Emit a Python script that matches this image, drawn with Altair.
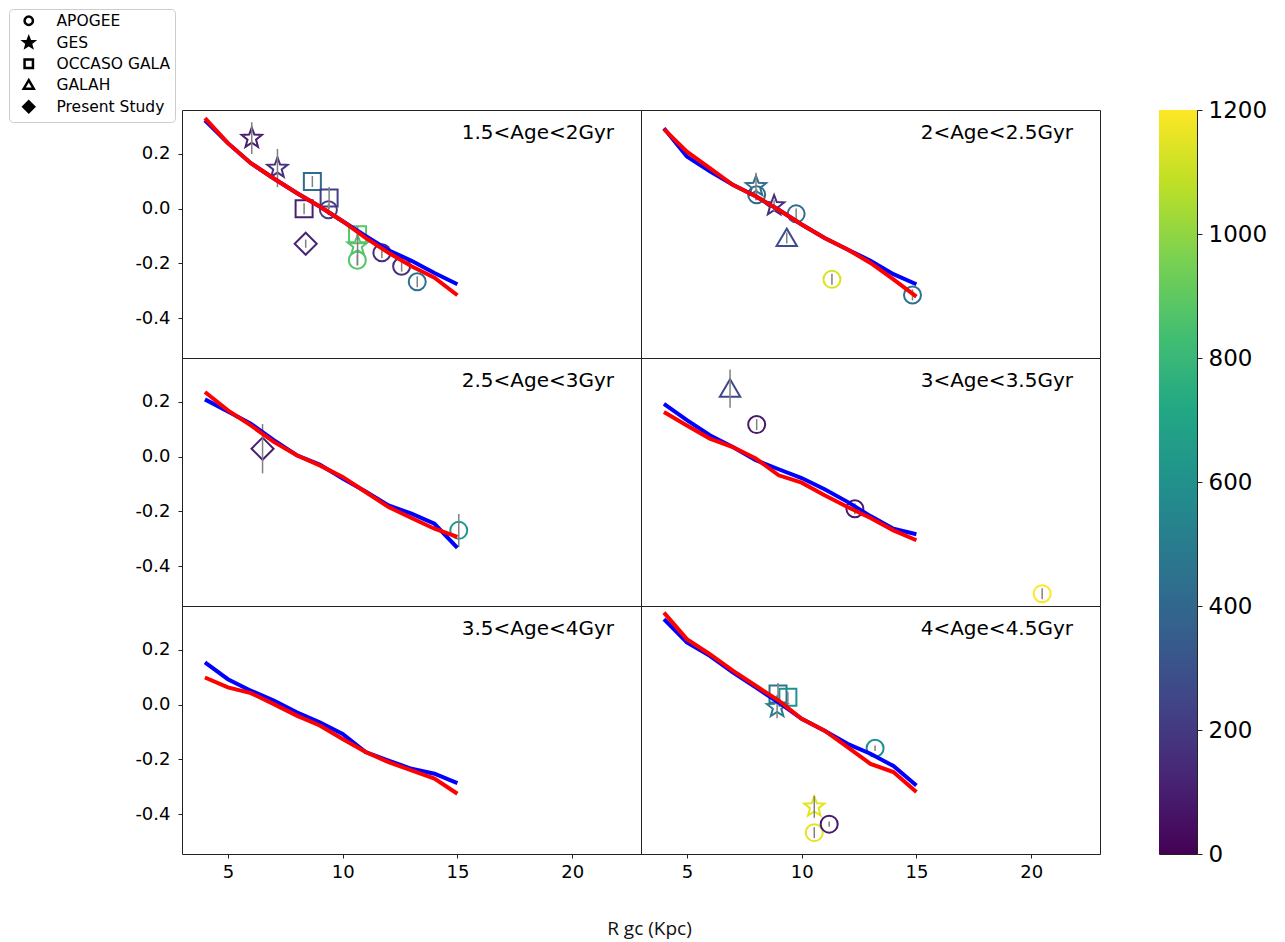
import math
import altair as alt
import pandas as pd

# ---------------- data ----------------
panel_labels = ["1.5<Age<2Gyr", "2<Age<2.5Gyr", "2.5<Age<3Gyr",
                "3<Age<3.5Gyr", "3.5<Age<4Gyr", "4<Age<4.5Gyr"]
r_grid = [4, 5, 6, 7, 8, 9, 10, 11, 12, 13, 14, 15]

blue_1 = [0.322, 0.239, 0.166, 0.110, 0.057, 0.008, -0.046, -0.100, -0.152, -0.190, -0.235, -0.276]
red_1 = [0.330, 0.239, 0.166, 0.110, 0.057, 0.008, -0.046, -0.107, -0.161, -0.210, -0.252, -0.316]
blue_2 = [0.293, 0.190, 0.136, 0.087, 0.045, -0.004, -0.058, -0.107, -0.149, -0.190, -0.239, -0.276]
red_2 = [0.290, 0.208, 0.148, 0.087, 0.045, -0.004, -0.058, -0.107, -0.149, -0.198, -0.258, -0.321]
blue_3 = [0.209, 0.165, 0.120, 0.060, 0.005, -0.029, -0.080, -0.127, -0.178, -0.208, -0.245, -0.333]
red_3 = [0.236, 0.169, 0.114, 0.054, 0.005, -0.032, -0.074, -0.129, -0.184, -0.224, -0.263, -0.293]
blue_4 = [0.193, 0.133, 0.078, 0.035, -0.013, -0.046, -0.078, -0.119, -0.165, -0.217, -0.263, -0.283]
red_4 = [0.163, 0.114, 0.066, 0.035, -0.007, -0.068, -0.095, -0.141, -0.184, -0.224, -0.269, -0.305]
blue_5 = [0.154, 0.093, 0.051, 0.015, -0.028, -0.064, -0.107, -0.173, -0.204, -0.234, -0.252, -0.286]
red_5 = [0.099, 0.063, 0.042, 0.002, -0.040, -0.076, -0.125, -0.173, -0.210, -0.240, -0.270, -0.325]
blue_6 = [0.312, 0.227, 0.178, 0.118, 0.063, 0.008, -0.052, -0.095, -0.143, -0.179, -0.224, -0.295]
red_6 = [0.336, 0.239, 0.184, 0.124, 0.069, 0.015, -0.052, -0.095, -0.155, -0.216, -0.246, -0.319]

blue_lines = [blue_1, blue_2, blue_3, blue_4, blue_5, blue_6]
red_lines = [red_1, red_2, red_3, red_4, red_5, red_6]

surveys = ["APOGEE", "GES", "OCCASO GALA", "GALAH", "Present Study"]
legend_fill = ["white", "black", "white", "white", "black"]

pt_panel = [0, 0, 0, 0, 0, 0, 0, 0, 0, 0, 0, 0, 0,
            1, 1, 1, 1, 1, 1, 1,
            2, 2,
            3, 3, 3, 3,
            5, 5, 5, 5, 5, 5, 5]
pt_survey = ["GES", "GES", "OCCASO GALA", "OCCASO GALA", "OCCASO GALA", "APOGEE", "Present Study",
             "OCCASO GALA", "GES", "APOGEE", "APOGEE", "APOGEE", "APOGEE",
             "GES", "APOGEE", "GES", "APOGEE", "GALAH", "APOGEE", "APOGEE",
             "Present Study", "APOGEE",
             "GALAH", "APOGEE", "APOGEE", "APOGEE",
             "OCCASO GALA", "OCCASO GALA", "GES", "APOGEE", "GES", "APOGEE", "APOGEE"]
pt_r = [6.04, 7.16, 8.68, 9.41, 8.32, 9.38, 8.39, 10.65, 10.65, 10.64, 11.71, 12.57, 13.25,
        8.01, 8.04, 8.80, 9.76, 9.35, 11.32, 14.83,
        6.51, 15.06,
        6.88, 8.04, 12.32, 20.48,
        8.97, 9.40, 8.93, 13.20, 10.55, 10.55, 11.20]
pt_feh = [0.257, 0.148, 0.099, 0.039, 0.000, -0.004, -0.128, -0.095, -0.135, -0.188, -0.161, -0.210, -0.267,
          0.081, 0.051, 0.011, -0.019, -0.107, -0.258, -0.315,
          0.029, -0.269,
          0.248, 0.117, -0.190, -0.500,
          0.039, 0.027, -0.010, -0.159, -0.373, -0.467, -0.436]
pt_err = [0.058, 0.070, 0.020, 0.040, 0.020, 0.020, 0.015, 0.020, 0.070, 0.020, 0.020, 0.020, 0.020,
          0.050, 0.020, 0.020, 0.020, 0.020, 0.020, 0.020,
          0.090, 0.060,
          0.070, 0.020, 0.020, 0.020,
          0.040, 0.020, 0.040, 0.010, 0.040, 0.020, 0.010]
pt_val = [100, 170, 420, 220, 100, 220, 120, 880, 880, 880, 150, 150, 450,
          420, 420, 150, 420, 280, 1130, 460,
          100, 640,
          260, 80, 80, 1200,
          470, 600, 500, 600, 1150, 1150, 80]

cbar_range = [0, 1200]
cbar_ticks = [0, 200, 400, 600, 800, 1000, 1200]

# ---------------- tables ----------------
rows = []
for i in range(6):
    for j, r in enumerate(r_grid):
        rows.append({"panel": i, "r": r, "feh": blue_lines[i][j], "model": "blue"})
        rows.append({"panel": i, "r": r, "feh": red_lines[i][j], "model": "red"})
lines_df = pd.DataFrame(rows)

pts_df = pd.DataFrame({"panel": pt_panel, "survey": pt_survey, "r": pt_r,
                       "feh": pt_feh, "err": pt_err, "val": pt_val})
pts_df["lo"] = pts_df["feh"] - pts_df["err"]
pts_df["hi"] = pts_df["feh"] + pts_df["err"]

# ---------------- styles ----------------
def star_path(R=1.25, ratio=0.42):
    p = []
    for k in range(10):
        a = math.radians(-90 + 36 * k)
        rad = R if k % 2 == 0 else R * ratio
        p.append(f"{rad * math.cos(a):.3f},{rad * math.sin(a):.3f}")
    return "M" + "L".join(p) + "Z"

shape_range = ["circle", star_path(), "square",
               "M0,-1.1L1.2,0.95L-1.2,0.95Z",
               "M0,-1.3L1.3,0L0,1.3L-1.3,0Z"]
shape_scale = alt.Scale(domain=surveys, range=shape_range)
color_scale = alt.Scale(scheme="viridis", domain=cbar_range)
viridis_stops = ["#440154", "#482475", "#414487", "#355f8d", "#2a788e", "#21918c",
                 "#22a884", "#44bf70", "#7ad151", "#bddf26", "#fde725"]

W, H = 459, 248
CBAR_GAP = 59
xscale = alt.Scale(domain=[3, 23], nice=False, zero=False)
yscale = alt.Scale(domain=[-0.545, 0.36], nice=False, zero=False)
MINUS = "\u2212"
ylabel_expr = f"replace(format(datum.value, '.1f'), '{MINUS}', '-')"


def shape_legend():
    return alt.Legend(
        title=None, orient="none", legendX=-173, legendY=-101,
        fillColor="white", strokeColor="#cccccc", cornerRadius=4, padding=4,
        labelFont="DejaVu Sans", labelFontSize=15.5, labelColor="black",
        symbolSize=70, symbolStrokeWidth=2.5, symbolStrokeColor="black",
        symbolOpacity=1, symbolOffset=8, rowPadding=2, labelOffset=20,
    )


def make_panel(i):
    row, col = divmod(i, 2)
    if row == 2:
        if col == 0:
            xaxis = alt.Axis(values=[5, 10, 15, 20], labelPadding=5, title="R gc (Kpc)",
                             titleX=467, titleY=74, titleBaseline="middle", titleAlign="center",
                             titleFont="Open Sans", titleFontSize=19, titleFontWeight="normal",
                             titleColor="#111111")
        else:
            xaxis = alt.Axis(values=[5, 10, 15, 20], labelPadding=5, title=None)
    else:
        xaxis = None
    if col == 0:
        yaxis = alt.Axis(values=[-0.4, -0.2, 0.0, 0.2], labelExpr=ylabel_expr,
                         labelPadding=8, title=None)
    else:
        yaxis = None

    X = alt.X("r:Q", scale=xscale, axis=xaxis)
    Y = alt.Y("feh:Q", scale=yscale, axis=yaxis)

    pdata = pts_df[pts_df["panel"] == i]
    ldata = lines_df[lines_df["panel"] == i]
    layers = []
    if len(pdata):
        points = alt.Chart(pdata).mark_point(filled=False, strokeWidth=2, size=289, opacity=1).encode(
            x=X, y=Y,
            shape=alt.Shape("survey:N", scale=shape_scale, legend=shape_legend()),
            color=alt.Color("val:Q", scale=color_scale, legend=None),
        )
        errs = alt.Chart(pdata).mark_rule(color="#808080", strokeWidth=1.5).encode(
            x=X, y=alt.Y("lo:Q", scale=yscale, axis=yaxis), y2="hi:Q",
        )
        layers += [points, errs]
    blue = alt.Chart(ldata[ldata["model"] == "blue"]).mark_line(
        color="#0000ff", strokeWidth=4).encode(x=X, y=Y)
    red = alt.Chart(ldata[ldata["model"] == "red"]).mark_line(
        color="#ff0000", strokeWidth=4).encode(x=X, y=Y)
    layers += [blue, red]
    label = alt.Chart(pd.DataFrame({"label": [panel_labels[i]]})).mark_text(
        align="right", baseline="middle", font="DejaVu Sans", fontSize=20, color="black"
    ).encode(x=alt.value(432), y=alt.value(23), text="label:N")
    layers.append(label)
    if i == 0:
        dummy = alt.Chart(pd.DataFrame({"survey": surveys})).mark_point(
            size=0, strokeOpacity=0, fillOpacity=0).encode(
            x=alt.value(0), y=alt.value(0),
            fill=alt.Fill("survey:N", scale=alt.Scale(domain=surveys, range=legend_fill),
                          legend=shape_legend()),
        )
        layers.append(dummy)
    return alt.layer(*layers).properties(width=W, height=H)


grid = alt.concat(*[make_panel(i) for i in range(6)], columns=2, spacing=0, bounds="flush")

# colour bar: one rect spanning the colour scale's range, filled with the viridis ramp
cbar_df = pd.DataFrame({"lo": [cbar_range[0]], "hi": [cbar_range[1]]})
gradient = alt.Gradient(
    gradient="linear", x1=0, x2=0, y1=1, y2=0,
    stops=[alt.GradientStop(offset=k / 10, color=c) for k, c in enumerate(viridis_stops)],
)
cbar = alt.Chart(cbar_df).mark_rect(fill=gradient).encode(
    x=alt.value(0), x2=alt.value(38),
    y=alt.Y("lo:Q", scale=alt.Scale(domain=cbar_range, nice=False, zero=False),
            axis=alt.Axis(orient="right", values=cbar_ticks, format="d", title=None,
                          labelFontSize=23, labelPadding=6, tickSize=5)),
    y2="hi:Q",
).properties(width=38, height=3 * H)

# with flush bounds the nested grid counts as zero width, so the gap includes its width
chart = alt.hconcat(grid, cbar, spacing=2 * W + CBAR_GAP, bounds="flush").properties(
    padding=0
).configure_view(
    stroke="#222222", strokeWidth=1
).configure_axis(
    labelFont="DejaVu Sans", labelFontSize=18, labelColor="black",
    tickColor="#222222", tickSize=4, tickWidth=1, domain=False, grid=False,
)

chart.save("out.html", embed_options={"renderer": "svg", "actions": False})
